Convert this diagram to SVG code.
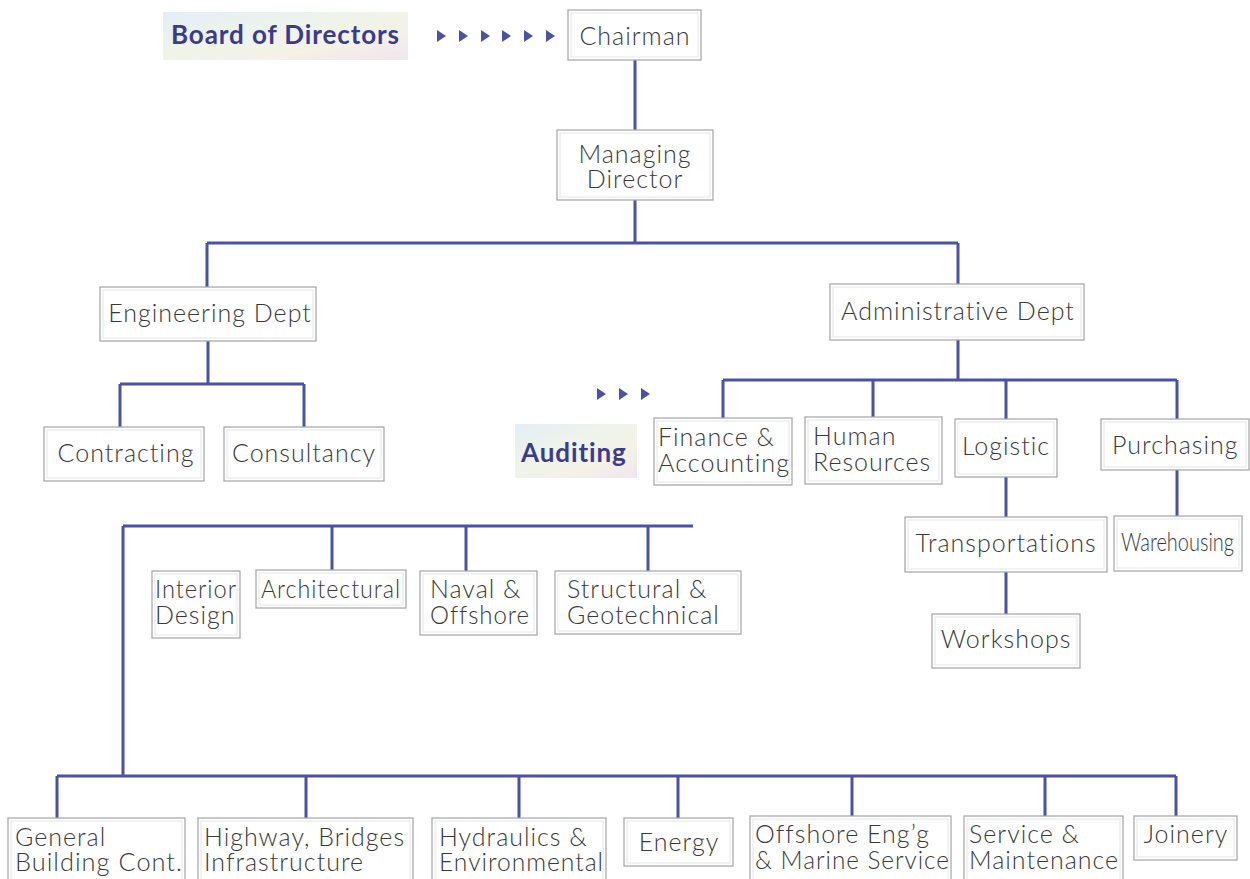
<svg xmlns="http://www.w3.org/2000/svg" width="1250" height="879" viewBox="0 0 1250 879">
<defs>
<linearGradient id="hl" x1="0" y1="0" x2="1" y2="1">
<stop offset="0" stop-color="#e4eef6"/>
<stop offset="0.4" stop-color="#eef4ea"/>
<stop offset="0.7" stop-color="#f4f1e6"/>
<stop offset="1" stop-color="#efe6f0"/>
</linearGradient>
<polygon id="tri" points="0,-6 9,0 0,6"/>
</defs>
<style>
.box{fill:#fff;stroke:#a4a4a4;stroke-width:1.2}
.inner{fill:none;stroke:#e2e6e8;stroke-width:1}
.t{font-family:Lato,"Noto Sans","Liberation Sans",sans-serif;font-weight:300;font-size:25px;letter-spacing:1px;fill:#3a3a3a}
.c{text-anchor:middle}
.hl{fill:url(#hl)}
.b{font-family:Lato,"Noto Sans","Liberation Sans",sans-serif;font-weight:700;font-size:26px;letter-spacing:0.9px;fill:#3b3b8e}
.ln{fill:none;stroke:#4a52a6;stroke-width:3}
.ar{fill:#4a52a6}
</style>
<rect width="1250" height="879" fill="#fff"/>

<g id="connectors">
<path class="ln" d="M635 60V130M635 200V243M207 243H958M207 243V287M958 243V284"/>
<path class="ln" d="M208 341V384M120 384H304M120 384V427M304 384V427"/>
<path class="ln" d="M958 340V380M723 380H1177M723 380V418M873 380V417M1006 380V419M1177 380V419"/>
<path class="ln" d="M1006 477V517M1177 470V516M1006 572V614"/>
<path class="ln" d="M123 526H693M123 526V776M332 526V571M466 526V571M648 526V571"/>
<path class="ln" d="M57 776H1176M57 776V818M306 776V818M519 776V818M678 776V818M852 776V816M1045 776V816M1176 776V816"/>
<g class="ar">
<use href="#tri" x="437" y="36"/><use href="#tri" x="459" y="36"/><use href="#tri" x="481" y="36"/>
<use href="#tri" x="502" y="36"/><use href="#tri" x="524" y="36"/><use href="#tri" x="546" y="36"/>
<use href="#tri" x="597" y="394"/><use href="#tri" x="619" y="394"/><use href="#tri" x="641" y="394"/>
</g>
</g>

<g id="board">
<rect class="hl" x="163" y="12" width="245" height="48"/>
<text class="b" x="171" y="44">Board of Directors</text>
</g>
<g id="auditing">
<rect class="hl" x="515" y="424" width="122" height="54"/>
<text class="b" x="521" y="462">Auditing</text>
</g>

<g id="chairman"><rect class="box" x="568" y="10" width="133" height="50"/><rect class="inner" x="571" y="13" width="127" height="44"/><text class="t c" x="635" y="45">Chairman</text></g>
<g id="md"><rect class="box" x="557" y="130" width="156" height="70"/><rect class="inner" x="560" y="133" width="150" height="64"/><text class="t c" x="635" y="163">Managing</text><text class="t c" x="635" y="188">Director</text></g>
<g id="eng"><rect class="box" x="100" y="287" width="216" height="54"/><rect class="inner" x="103" y="290" width="210" height="48"/><text class="t c" x="210" y="322">Engineering Dept</text></g>
<g id="contracting"><rect class="box" x="44" y="427" width="160" height="54"/><rect class="inner" x="47" y="430" width="154" height="48"/><text class="t c" x="126" y="462">Contracting</text></g>
<g id="consultancy"><rect class="box" x="224" y="427" width="160" height="54"/><rect class="inner" x="227" y="430" width="154" height="48"/><text class="t c" x="304" y="462">Consultancy</text></g>
<g id="admin"><rect class="box" x="830" y="284" width="254" height="56"/><rect class="inner" x="833" y="287" width="248" height="50"/><text class="t c" x="958" y="320">Administrative Dept</text></g>
<g id="finance"><rect class="box" x="654" y="418" width="138" height="67"/><rect class="inner" x="657" y="421" width="132" height="61"/><text class="t" x="658" y="446">Finance &amp;</text><text class="t" x="658" y="472" textLength="132" lengthAdjust="spacingAndGlyphs">Accounting</text></g>
<g id="hr"><rect class="box" x="805" y="417" width="137" height="67"/><rect class="inner" x="808" y="420" width="131" height="61"/><text class="t" x="813" y="445">Human</text><text class="t" x="813" y="471">Resources</text></g>
<g id="logistic"><rect class="box" x="955" y="419" width="102" height="58"/><rect class="inner" x="958" y="422" width="96" height="52"/><text class="t c" x="1006" y="455">Logistic</text></g>
<g id="purchasing"><rect class="box" x="1101" y="419" width="148" height="51"/><rect class="inner" x="1104" y="422" width="142" height="45"/><text class="t" x="1112" y="454">Purchasing</text></g>
<g id="transport"><rect class="box" x="905" y="517" width="202" height="55"/><rect class="inner" x="908" y="520" width="196" height="49"/><text class="t c" x="1006" y="552">Transportations</text></g>
<g id="warehousing"><rect class="box" x="1114" y="516" width="128" height="55"/><rect class="inner" x="1117" y="519" width="122" height="49"/><text class="t" x="1121" y="551" style="letter-spacing:0" textLength="113" lengthAdjust="spacingAndGlyphs">Warehousing</text></g>
<g id="workshops"><rect class="box" x="932" y="614" width="148" height="54"/><rect class="inner" x="935" y="617" width="142" height="48"/><text class="t c" x="1006" y="648">Workshops</text></g>
<g id="interior"><rect class="box" x="152" y="571" width="88" height="67"/><rect class="inner" x="155" y="574" width="82" height="61"/><text class="t" x="155" y="598" textLength="82" lengthAdjust="spacingAndGlyphs">Interior</text><text class="t" x="155" y="624">Design</text></g>
<g id="architectural"><rect class="box" x="256" y="570" width="150" height="38"/><rect class="inner" x="259" y="573" width="144" height="32"/><text class="t" x="261" y="598" textLength="140" lengthAdjust="spacingAndGlyphs">Architectural</text></g>
<g id="naval"><rect class="box" x="420" y="571" width="117" height="64"/><rect class="inner" x="423" y="574" width="111" height="58"/><text class="t" x="430" y="598">Naval &amp;</text><text class="t" x="430" y="624" textLength="100" lengthAdjust="spacingAndGlyphs">Offshore</text></g>
<g id="structural"><rect class="box" x="555" y="571" width="186" height="63"/><rect class="inner" x="558" y="574" width="180" height="57"/><text class="t" x="567" y="598">Structural &amp;</text><text class="t" x="567" y="624">Geotechnical</text></g>
<g id="general"><rect class="box" x="8" y="818" width="177" height="64"/><rect class="inner" x="11" y="821" width="171" height="64"/><text class="t" x="15" y="846">General</text><text class="t" x="15" y="871" textLength="168" lengthAdjust="spacingAndGlyphs">Building Cont.</text></g>
<g id="highway"><rect class="box" x="198" y="818" width="215" height="64"/><rect class="inner" x="201" y="821" width="209" height="64"/><text class="t" x="204" y="846" textLength="201" lengthAdjust="spacingAndGlyphs">Highway, Bridges</text><text class="t" x="204" y="871">Infrastructure</text></g>
<g id="hydraulics"><rect class="box" x="432" y="818" width="174" height="64"/><rect class="inner" x="435" y="821" width="168" height="64"/><text class="t" x="439" y="846">Hydraulics &amp;</text><text class="t" x="439" y="871" textLength="165" lengthAdjust="spacingAndGlyphs">Environmental</text></g>
<g id="energy"><rect class="box" x="624" y="818" width="109" height="48"/><rect class="inner" x="627" y="821" width="103" height="42"/><text class="t c" x="679" y="851">Energy</text></g>
<g id="offshore"><rect class="box" x="750" y="816" width="201" height="66"/><rect class="inner" x="753" y="819" width="195" height="66"/><text class="t" x="755" y="843">Offshore Eng’g</text><text class="t" x="755" y="869" textLength="195" lengthAdjust="spacingAndGlyphs">&amp; Marine Service</text></g>
<g id="service"><rect class="box" x="964" y="816" width="159" height="66"/><rect class="inner" x="967" y="819" width="153" height="66"/><text class="t" x="969" y="843">Service &amp;</text><text class="t" x="969" y="869" textLength="150" lengthAdjust="spacingAndGlyphs">Maintenance</text></g>
<g id="joinery"><rect class="box" x="1134" y="816" width="103" height="44"/><rect class="inner" x="1137" y="819" width="97" height="38"/><text class="t c" x="1186" y="843">Joinery</text></g>
</svg>
